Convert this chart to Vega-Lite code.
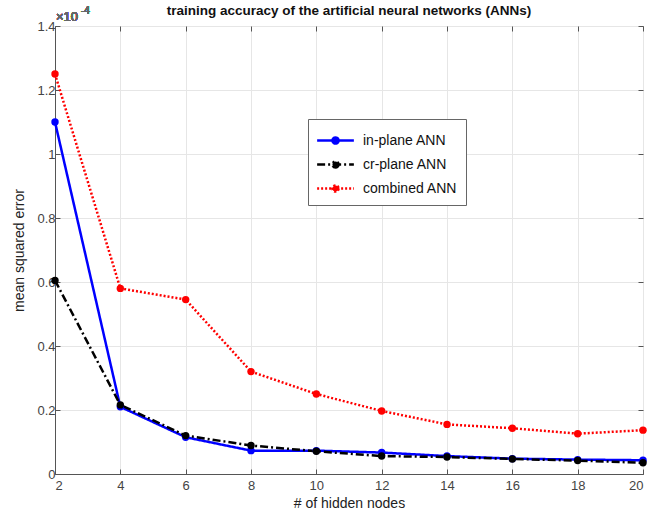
{
  "$schema": "https://vega.github.io/schema/vega-lite/v6.json",
  "width": 588,
  "height": 448,
  "autosize": {"type": "none"},
  "padding": {"left": 55, "top": 26, "right": 17, "bottom": 45},
  "background": "white",
  "config": {
    "font": "Liberation Sans",
    "view": {"stroke": "#555", "strokeWidth": 1},
    "axis": {
      "labelFont": "Liberation Sans", "labelFontSize": 13, "labelColor": "#444",
      "titleFont": "Liberation Sans", "titleFontSize": 14, "titleFontWeight": "normal", "titleColor": "#222",
      "domainColor": "#555", "tickColor": "#555", "tickSize": -5,
      "gridColor": "#e6e6e6", "gridWidth": 1
    }
  },
  "title": {
    "text": "training accuracy of the artificial neural networks (ANNs)",
    "font": "Liberation Sans", "fontSize": 13.5, "fontWeight": "bold", "color": "#111",
    "anchor": "middle", "frame": "group", "orient": "top", "offset": 0, "dy": 11
  },
  "data": {"values": [
    {"n": 2, "series": "in-plane ANN", "mse": 1.10},
    {"n": 4, "series": "in-plane ANN", "mse": 0.21},
    {"n": 6, "series": "in-plane ANN", "mse": 0.115},
    {"n": 8, "series": "in-plane ANN", "mse": 0.073},
    {"n": 10, "series": "in-plane ANN", "mse": 0.073},
    {"n": 12, "series": "in-plane ANN", "mse": 0.067},
    {"n": 14, "series": "in-plane ANN", "mse": 0.056},
    {"n": 16, "series": "in-plane ANN", "mse": 0.048},
    {"n": 18, "series": "in-plane ANN", "mse": 0.045},
    {"n": 20, "series": "in-plane ANN", "mse": 0.043},
    {"n": 2, "series": "cr-plane ANN", "mse": 0.605},
    {"n": 4, "series": "cr-plane ANN", "mse": 0.216},
    {"n": 6, "series": "cr-plane ANN", "mse": 0.12},
    {"n": 8, "series": "cr-plane ANN", "mse": 0.089},
    {"n": 10, "series": "cr-plane ANN", "mse": 0.071},
    {"n": 12, "series": "cr-plane ANN", "mse": 0.056},
    {"n": 14, "series": "cr-plane ANN", "mse": 0.053},
    {"n": 16, "series": "cr-plane ANN", "mse": 0.047},
    {"n": 18, "series": "cr-plane ANN", "mse": 0.042},
    {"n": 20, "series": "cr-plane ANN", "mse": 0.035},
    {"n": 2, "series": "combined ANN", "mse": 1.25},
    {"n": 4, "series": "combined ANN", "mse": 0.58},
    {"n": 6, "series": "combined ANN", "mse": 0.545},
    {"n": 8, "series": "combined ANN", "mse": 0.32},
    {"n": 10, "series": "combined ANN", "mse": 0.25},
    {"n": 12, "series": "combined ANN", "mse": 0.197},
    {"n": 14, "series": "combined ANN", "mse": 0.155},
    {"n": 16, "series": "combined ANN", "mse": 0.143},
    {"n": 18, "series": "combined ANN", "mse": 0.126},
    {"n": 20, "series": "combined ANN", "mse": 0.137}
  ]},
  "resolve": {"axis": {"x": "independent", "y": "independent"}},
  "layer": [
    {
      "mark": {"type": "line", "strokeWidth": 2.5},
      "encoding": {
        "x": {"field": "n", "type": "quantitative",
          "scale": {"domain": [2, 20], "nice": false, "zero": false},
          "axis": {"values": [2,4,6,8,10,12,14,16,18,20], "title": "# of hidden nodes", "labelPadding": 10, "titlePadding": 4}},
        "y": {"field": "mse", "type": "quantitative",
          "scale": {"domain": [0, 1.4], "nice": false},
          "axis": {"values": [0,0.2,0.4,0.6,0.8,1,1.2,1.4], "format": "~g", "title": "mean squared error", "labelPadding": 5, "titlePadding": 10}},
        "color": {"field": "series", "type": "nominal",
          "scale": {"domain": ["in-plane ANN", "cr-plane ANN", "combined ANN"], "range": ["#0000ff", "#000000", "#ff0000"]},
          "legend": {
            "title": null, "orient": "none", "legendX": 253, "legendY": 93,
            "strokeColor": "#666", "fillColor": "white", "padding": 8,
            "labelFont": "Liberation Sans", "labelFontSize": 14, "labelColor": "#111",
            "symbolType": "M-1.5,0H1.5M0.25,0A0.25,0.25,0,1,1,-0.25,0A0.25,0.25,0,1,1,0.25,0",
            "symbolSize": 600, "symbolStrokeWidth": 2.5,
            "symbolOffset": 6, "labelOffset": 14, "rowPadding": 2,
            "encode": {"symbols": {"update": {"fill": {"scale": "color", "field": "value"}}}}
          }},
        "strokeDash": {"field": "series", "type": "nominal",
          "scale": {"domain": ["in-plane ANN", "cr-plane ANN", "combined ANN"], "range": [[1, 0], [8, 3, 2, 3], [2, 2]]},
          "legend": {
            "title": null, "orient": "none", "legendX": 253, "legendY": 93,
            "strokeColor": "#666", "fillColor": "white", "padding": 8,
            "labelFont": "Liberation Sans", "labelFontSize": 14, "labelColor": "#111",
            "symbolType": "M-1.5,0H1.5M0.25,0A0.25,0.25,0,1,1,-0.25,0A0.25,0.25,0,1,1,0.25,0",
            "symbolSize": 600, "symbolStrokeWidth": 2.5,
            "symbolOffset": 6, "labelOffset": 14, "rowPadding": 2,
            "encode": {"symbols": {"update": {"fill": {"scale": "color", "field": "value"}}}}
          }}
      }
    },
    {
      "mark": {"type": "point", "filled": true, "opacity": 1, "size": 55},
      "encoding": {
        "x": {"field": "n", "type": "quantitative",
          "axis": {"orient": "top", "values": [2,4,6,8,10,12,14,16,18,20], "labels": false, "grid": false, "title": null, "domain": false}},
        "y": {"field": "mse", "type": "quantitative",
          "axis": {"orient": "right", "values": [0,0.2,0.4,0.6,0.8,1,1.2,1.4], "labels": false, "grid": false, "title": null, "domain": false}},
        "color": {"field": "series", "type": "nominal"}
      }
    },
    {
      "mark": {"type": "text", "align": "left", "baseline": "alphabetic", "dx": 1, "dy": -5, "fontSize": 13, "font": "Liberation Sans"},
      "encoding": {
        "x": {"datum": 2, "axis": null},
        "y": {"datum": 1.4, "axis": null},
        "text": {"value": "×10"},
        "color": {"value": "#666"}
      }
    },
    {
      "mark": {"type": "text", "align": "left", "baseline": "alphabetic", "dx": 26, "dy": -12, "fontSize": 10, "font": "Liberation Sans"},
      "encoding": {
        "x": {"datum": 2, "axis": null},
        "y": {"datum": 1.4, "axis": null},
        "text": {"value": "-4"},
        "color": {"value": "#666"}
      }
    }
  ]
}
